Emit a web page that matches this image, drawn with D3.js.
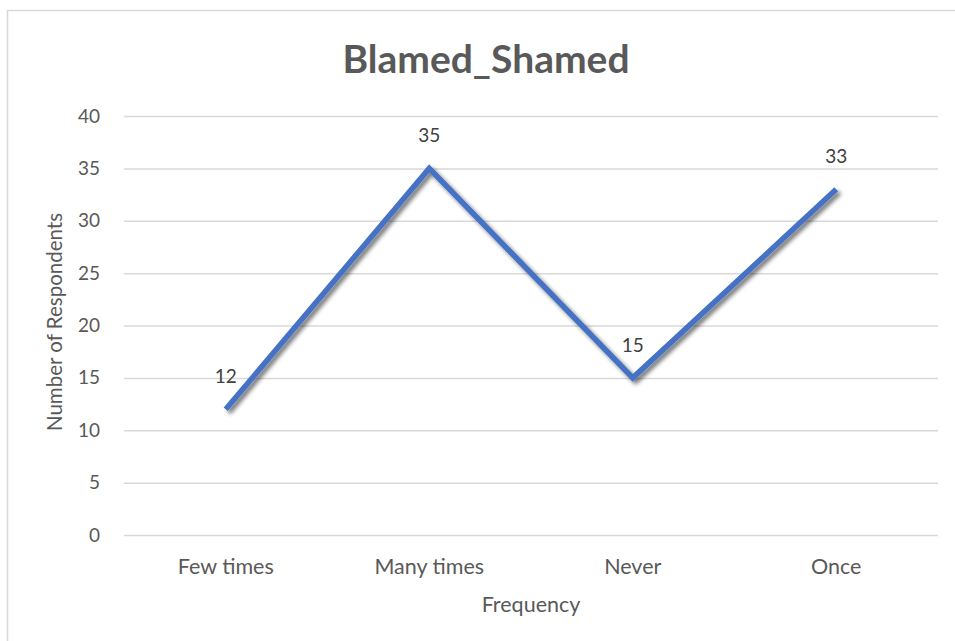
<!DOCTYPE html>
<html><head><meta charset="utf-8">
<script src="https://cdn.jsdelivr.net/npm/d3@7"></script>
<style>body{margin:0;background:#fff}svg{display:block}</style>
</head><body>
<script>
const categories = ["Few times", "Many times", "Never", "Once"];
const values = [12, 35, 15, 33];
const yTicks = [0, 5, 10, 15, 20, 25, 30, 35, 40];
const title = "Blamed_Shamed";
const xTitle = "Frequency";
const yTitle = "Number of Respondents";

const W = 955, H = 641;
const m = {left: 124, right: 17, top: 116, bottom: 106};
const svg = d3.select("body").append("svg").attr("width", W).attr("height", H);
const font = "Lato, 'Open Sans', sans-serif";

svg.append("rect").attr("x", 7.5).attr("y", 10.5).attr("width", W).attr("height", H)
  .attr("fill", "#fff").attr("stroke", "#d9d9d9").attr("stroke-width", 1.5);

const x = d3.scaleBand().domain(categories).range([m.left, W - m.right]);
const y = d3.scaleLinear().domain([0, 40]).range([H - m.bottom, m.top]);

const defs = svg.append("defs");
const f = defs.append("filter").attr("id", "sh").attr("x", "-10%").attr("y", "-10%").attr("width", "120%").attr("height", "120%");
f.append("feGaussianBlur").attr("in", "SourceAlpha").attr("stdDeviation", 2).attr("result", "b");
f.append("feOffset").attr("in", "b").attr("dx", 3).attr("dy", 3).attr("result", "o");
f.append("feComponentTransfer").attr("in", "o").attr("result", "o2")
  .append("feFuncA").attr("type", "linear").attr("slope", 0.55);
const fm = f.append("feMerge");
fm.append("feMergeNode").attr("in", "o2");
fm.append("feMergeNode").attr("in", "SourceGraphic");

const yAxis = svg.append("g").attr("transform", `translate(${m.left},0)`)
  .call(d3.axisLeft(y).tickValues(yTicks).tickSize(-(W - m.left - m.right)).tickPadding(24));
yAxis.select(".domain").remove();
yAxis.selectAll(".tick line").attr("stroke", "#d9d9d9").attr("stroke-width", 1.5);
yAxis.selectAll(".tick text").attr("fill", "#595959").style("font-family", font).style("font-size", "19px");

const xAxis = svg.append("g").attr("transform", `translate(0,${H - m.bottom})`)
  .call(d3.axisBottom(x).tickSize(0).tickPadding(24));
xAxis.select(".domain").remove();
xAxis.selectAll(".tick text").attr("fill", "#595959").style("font-family", font).style("font-size", "21.5px");

const line = d3.line().x((d, i) => x(categories[i]) + x.bandwidth() / 2).y(d => y(d));
svg.append("path").datum(values).attr("d", line).attr("fill", "none")
  .attr("stroke", "#4472C4").attr("stroke-width", 5.5).attr("stroke-linejoin", "miter")
  .attr("filter", "url(#sh)");

svg.selectAll(".lbl").data(values).enter().append("text")
  .attr("x", (d, i) => x(categories[i]) + x.bandwidth() / 2)
  .attr("y", d => y(d) - 26)
  .attr("text-anchor", "middle").attr("fill", "#404040")
  .style("font-family", font).style("font-size", "19px").text(d => d);

svg.append("text").attr("x", 486).attr("y", 73).attr("text-anchor", "middle")
  .attr("fill", "#595959").style("font-family", font).style("font-weight", "bold").style("font-size", "39px")
  .text(title);

svg.append("text").attr("x", (m.left + W - m.right) / 2).attr("y", 612).attr("text-anchor", "middle")
  .attr("fill", "#595959").style("font-family", font).style("font-size", "21.5px").text(xTitle);

svg.append("text").attr("transform", `translate(62,322) rotate(-90)`)
  .attr("text-anchor", "middle").attr("fill", "#595959")
  .style("font-family", font).style("font-size", "20.5px").text(yTitle);
</script>
</body></html>
